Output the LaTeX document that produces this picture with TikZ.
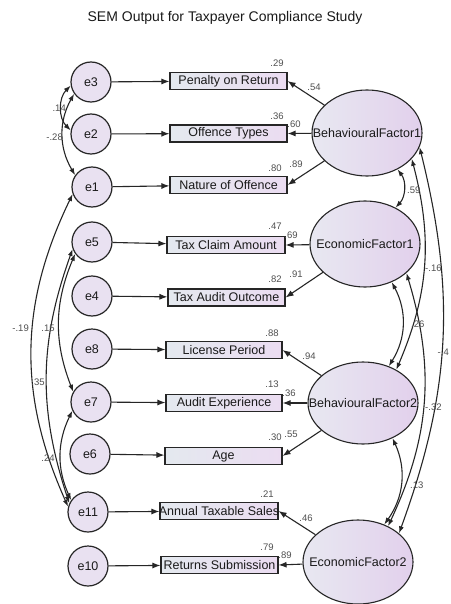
\documentclass[tikz,border=0pt]{standalone}
\usepackage{fontspec}
\setmainfont{Liberation Sans}
\usetikzlibrary{shapes.geometric,arrows.meta}
\definecolor{lineC}{HTML}{262626}
\definecolor{txtC}{HTML}{1A1A1A}
\definecolor{numC}{HTML}{505050}
\definecolor{errF}{HTML}{E9E1F1}
\definecolor{obsL}{HTML}{E4E9EF}
\definecolor{obsR}{HTML}{EBDCF1}
\definecolor{latL}{HTML}{E8E8F1}
\definecolor{latR}{HTML}{E2D0EC}
\tikzset{
  errnode/.style={circle, draw=lineC, line width=1.2pt, fill=errF, minimum size=40pt, inner sep=0pt, font=\fontsize{12.5}{14}\selectfont, text=txtC},
  obsnode/.style={rectangle, draw=lineC, line width=1.1pt, left color=obsL, right color=obsR, minimum height=17pt, inner sep=0pt, font=\fontsize{12.5}{14}\selectfont, text=txtC},
  latnode/.style={ellipse, draw=lineC, line width=1.1pt, left color=latL, right color=latR, minimum width=110pt, inner sep=0pt, font=\fontsize{12.5}{14}\selectfont, text=txtC},
  arr/.style={draw=lineC, line width=1.1pt, -{Latex[length=8pt,width=6pt]}},
  cov/.style={draw=lineC, line width=1.1pt, {Latex[length=7pt,width=5pt]}-{Latex[length=7pt,width=5pt]}},
  num/.style={font=\fontsize{9.5}{10}\selectfont, text=numC, inner sep=0pt},
  titlenode/.style={font=\fontsize{14}{16}\selectfont, text=txtC, inner sep=0pt}
}
\begin{document}
\begin{tikzpicture}[x=1pt,y=-1pt]
\useasboundingbox[fill=white] (0,0) rectangle (450,604);
\node[titlenode] (title) at (225,18) {SEM Output for Taxpayer Compliance Study};

% error terms
\node[errnode] (e3) at (91,82) {e3};
\node[errnode] (e2) at (91,134) {e2};
\node[errnode] (e1) at (92,187) {e1};
\node[errnode] (e5) at (92,242) {e5};
\node[errnode] (e4) at (92,296) {e4};
\node[errnode] (e8) at (92,349) {e8};
\node[errnode] (e7) at (91,402) {e7};
\node[errnode] (e6) at (90,454) {e6};
\node[errnode] (e11) at (88,512) {e11};
\node[errnode] (e10) at (88,566) {e10};

% observed variables
\node[obsnode, minimum width=117pt] (pen) at (228.5,81) {\makebox[0pt]{Penalty on Return}};
\node[obsnode, minimum width=117pt] (off) at (228.5,133.5) {\makebox[0pt]{Offence Types}};
\node[obsnode, minimum width=117pt] (nat) at (228.5,185) {\makebox[0pt]{Nature of Offence}};
\node[obsnode, minimum width=118pt] (tca) at (226,245) {\makebox[0pt]{Tax Claim Amount}};
\node[obsnode, minimum width=117pt] (tao) at (226.5,297.5) {\makebox[0pt]{Tax Audit Outcome}};
\node[obsnode, minimum width=116pt] (lic) at (224,350) {\makebox[0pt]{License Period}};
\node[obsnode, minimum width=116pt] (aud) at (224,403) {\makebox[0pt]{Audit Experience}};
\node[obsnode, minimum width=117pt] (age) at (223.5,456) {\makebox[0pt]{Age}};
\node[obsnode, minimum width=118pt] (ats) at (219,511) {\makebox[0pt]{Annual Taxable Sales}};
\node[obsnode, minimum width=117pt] (ret) at (219.5,565) {\makebox[0pt]{Returns Submission}};

% latent factors
\node[latnode, minimum height=86pt] (BF1) at (367,133) {\makebox[0pt]{BehaviouralFactor1}};
\node[latnode, minimum height=86pt] (EF1) at (365,244) {\makebox[0pt]{EconomicFactor1}};
\node[latnode, minimum height=82pt] (BF2) at (363,403) {\makebox[0pt]{BehaviouralFactor2}};
\node[latnode, minimum height=84pt] (EF2) at (358,562) {\makebox[0pt]{EconomicFactor2}};

% error arrows
\draw[arr] (e3) -- (pen);
\draw[arr] (e2) -- (off);
\draw[arr] (e1) -- (nat);
\draw[arr] (e5) -- (tca);
\draw[arr] (e4) -- (tao);
\draw[arr] (e8) -- (lic);
\draw[arr] (e7) -- (aud);
\draw[arr] (e6) -- (age);
\draw[arr] (e11) -- (ats);
\draw[arr] (e10) -- (ret);

% loadings
\draw[arr] (BF1) -- (pen.east);
\draw[arr] (BF1) -- (off.east);
\draw[arr] (BF1) -- (nat.east);
\draw[arr] (EF1) -- (tca.east);
\draw[arr] (EF1) -- (tao.east);
\draw[arr] (BF2) -- (lic.east);
\draw[arr] (BF2) -- (aud.east);
\draw[arr] (BF2) -- (age.east);
\draw[arr] (EF2) -- (ats.east);
\draw[arr] (EF2) -- (ret.east);

% loading labels
\node[num] (l1) at (314,87) {.54};
\node[num] (r1) at (277,63) {.29};
\node[num] (l2) at (294,124) {.60};
\node[num] (r2) at (277,116) {.36};
\node[num] (l3) at (296,164) {.89};
\node[num] (r3) at (275,168) {.80};
\node[num] (l4) at (291,235) {.69};
\node[num] (r4) at (275,226) {.47};
\node[num] (l5) at (296,274) {.91};
\node[num] (r5) at (275,279) {.82};
\node[num] (l6) at (309,356) {.94};
\node[num] (r6) at (272,333) {.88};
\node[num] (l7) at (289,393) {.36};
\node[num] (r7) at (272,384) {.13};
\node[num] (l8) at (291,434) {.55};
\node[num] (r8) at (275,437) {.30};
\node[num] (l9) at (306,518) {.46};
\node[num] (r9) at (267,494) {.21};
\node[num] (l10) at (285,555) {.89};
\node[num] (r10) at (267,547) {.79};

% error covariances
\draw[cov] (e3.190) to[bend right=45] (e2.170);
\draw[cov] (e3.215) to[bend right=30] (e1.145);
\draw[cov] (e1.200) to[bend right=25] (e11.165);
\draw[cov] (e5.200) to[bend right=19] (e11.155);
\draw[cov] (e5.215) to[bend right=22] (e7.150);
\draw[cov] (e7.205) to[bend right=25] (e11.145);
\node[num, anchor=east] (c1) at (66,108) {.14};
\node[num, anchor=east] (c2) at (63,137) {-.28};
\node[num, anchor=east] (c3) at (29,328) {-.19};
\node[num] (c4) at (48,328) {.15};
\node[num] (c5) at (38,382) {.35};
\node[num] (c6) at (48,458) {.24};

% factor covariances
\draw[cov] (BF1.-50) to[bend left=40] (EF1.50);
\draw[cov] (BF1.-30) to[bend left=19] (BF2.45);
\draw[cov] (EF1.-55) to[bend left=30] (BF2.55);
\draw[cov] (EF1.-35) to[bend left=21] (EF2.50);
\draw[cov] (BF1.-15) to[bend left=17] (EF2.35);
\draw[cov] (BF2.-50) to[bend left=30] (EF2.55);
\node[num, anchor=west] (f1) at (407,190) {.59};
\node[num, anchor=west] (f2) at (425,268) {-.16};
\node[num, anchor=west] (f3) at (411,324) {.26};
\node[num, anchor=east] (f4) at (449,352) {-.4};
\node[num, anchor=west] (f5) at (425,407) {-.32};
\node[num, anchor=west] (f6) at (410,485) {.13};
\end{tikzpicture}
\end{document}
